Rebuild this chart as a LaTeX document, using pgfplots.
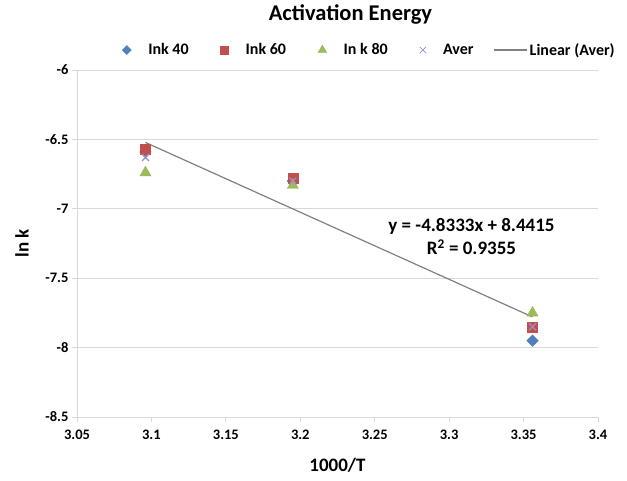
\documentclass[border=0pt]{standalone}
\usepackage{fontspec}
\setmainfont{Carlito}
\usepackage{pgfplots}
\pgfplotsset{compat=1.18}
\definecolor{cblue}{HTML}{4F81BD}
\definecolor{cred}{HTML}{C0504D}
\definecolor{cgreen}{HTML}{9BBB59}
\definecolor{cpurp}{HTML}{9F8CC6}
\definecolor{cgrid}{HTML}{D9D9D9}
\definecolor{ctrend}{HTML}{808080}
\begin{document}
\begin{tikzpicture}
\path[use as bounding box] (0,0) rectangle (627pt,-480pt);
\begin{axis}[
  at={(77pt,-417pt)}, anchor=south west,
  scale only axis, width=521pt, height=347pt,
  xmin=3.05, xmax=3.4, ymin=-8.5, ymax=-6,
  xtick={3.05,3.1,3.15,3.2,3.25,3.3,3.35,3.4},
  ytick={-8.5,-8,-7.5,-7,-6.5,-6},
  /pgf/number format/assume math mode=true,
  axis lines=left, axis line style={draw=cgrid, line width=1pt, -},
  tick style={draw=cgrid, line width=1pt},
  tick align=outside, major tick length=5pt,
  ymajorgrids, grid style={draw=cgrid, line width=1pt},
  tick label style={font=\fontsize{14.5}{15}\selectfont\bfseries},
  xticklabel style={yshift=-4pt},
  xlabel={1000/T}, ylabel={ln k},
  label style={font=\fontsize{19}{20}\selectfont\bfseries},
  xlabel style={at={(axis description cs:0.5,0)}, anchor=center, yshift=-48pt},
  ylabel style={at={(axis description cs:-0.1056,0.5)}, anchor=center},
  title={Activation Energy},
  title style={font=\fontsize{22.5}{23}\selectfont\bfseries, at={(axis description cs:0.5,1)}, anchor=center, yshift=50pt, xshift=13pt},
  legend columns=5,
  legend style={at={(axis description cs:0.5,1)}, anchor=center, yshift=20pt, xshift=32pt,
    draw=none, fill=none, font=\fontsize{16}{17}\selectfont\bfseries,
    /tikz/every odd column/.append style={column sep=15pt},
    /tikz/every even column/.append style={column sep=30pt}},
  legend cell align=left,
  clip=false,
]
\addplot[only marks, mark=square*, mark size=4.1pt, color=cblue, mark options={fill=cblue, draw=cblue, rotate=45},
  legend image post style={mark size=3.2pt}]
  coordinates {(3.096,-6.59) (3.195,-6.80) (3.356,-7.95)};
\addlegendentry{Ink 40}
\addplot[only marks, mark=square*, mark size=5pt, color=cred, mark options={fill=cred, draw=cred},
  legend image post style={mark size=4pt}]
  coordinates {(3.096,-6.57) (3.195,-6.78) (3.356,-7.85)};
\addlegendentry{Ink 60}
\addplot[only marks, mark=triangle*, mark size=6.5pt, color=cgreen, mark options={fill=cgreen, draw=cgreen},
  legend image post style={mark size=5pt}]
  coordinates {(3.096,-6.74) (3.195,-6.83) (3.356,-7.75)};
\addlegendentry{In k 80}
\addplot[only marks, mark=x, mark size=5pt, color=cpurp, mark options={line width=1.2pt},
  legend image post style={mark size=4.5pt, mark options={line width=0.8pt}}]
  coordinates {(3.096,-6.63) (3.195,-6.80) (3.356,-7.85)};
\addlegendentry{Aver}
\addplot[color=ctrend, line width=1.2pt, no marks,
  legend image code/.code={\draw[ctrend, line width=1.2pt, overlay] (-12pt,0pt) -- (21pt,0pt); \path (0pt,0pt) -- (6pt,0pt);}]
  coordinates {(3.096,-6.522) (3.356,-7.779)};
\addlegendentry{Linear (Aver)}
\node[font=\fontsize{19}{23}\selectfont\bfseries, align=center] at (axis cs:3.315,-7.2)
  {y = -4.8333x + 8.4415\\R\textsuperscript{2} = 0.9355};
\end{axis}
\end{tikzpicture}
\end{document}
